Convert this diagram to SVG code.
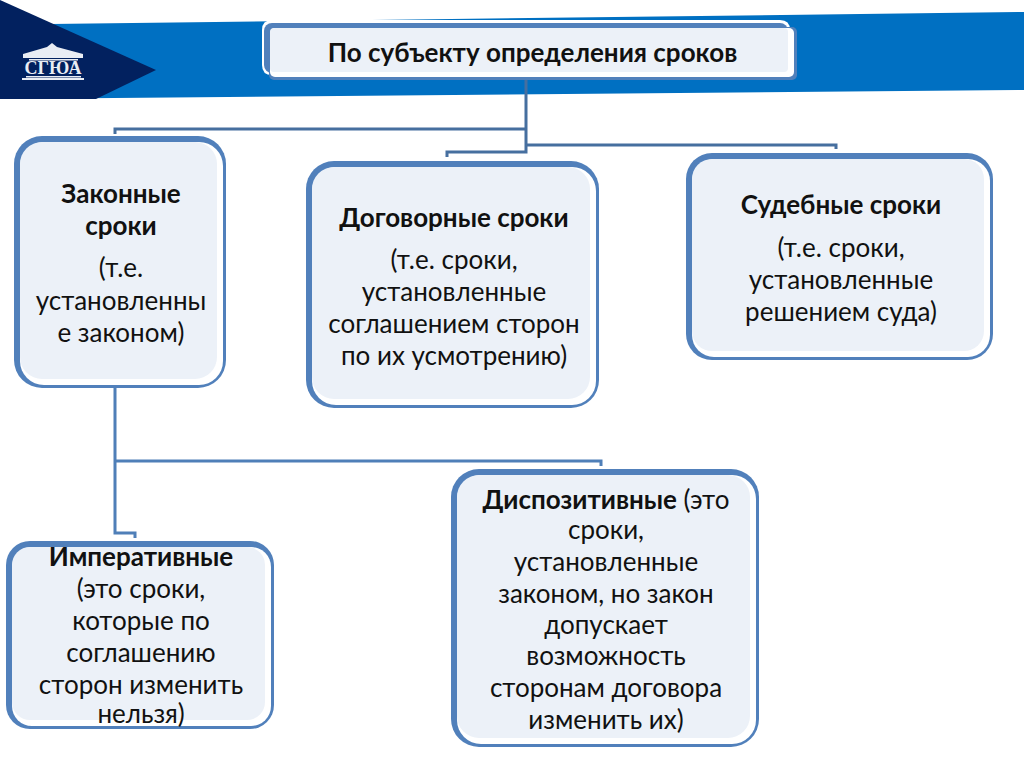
<svg xmlns="http://www.w3.org/2000/svg" width="1024" height="767" viewBox="0 0 1024 767">
<style>
.o{fill:#5180bb}.w{fill:#fff}.f{fill:#ecf1f8}
text{font-family:"Lato","Noto Sans",sans-serif;font-size:26px;fill:#111;text-anchor:middle}
.b{font-weight:700}
.c{fill:none;stroke:#466f9f;stroke-width:3}
</style>
<rect width="1024" height="767" fill="#fff"/>
<polygon points="50,24 1024,12 1024,90 0,99" fill="#0070c2"/>
<polygon points="0,0 156,70 96,99 0,99" fill="#02215f"/>
<g id="logo" fill="#e9edf4">
<path d="M23,54 L47,47 L52,43 L57,47 L83,54 L83,58 L23,58Z"/>
<rect x="29" y="59" width="49" height="1.500"/>
<text x="53" y="73.500" style="font-family:'Liberation Serif',serif;font-size:18px;fill:#e9edf4;font-weight:700">СГЮА</text>
<rect x="26" y="76" width="55" height="1.500"/><rect x="22" y="78" width="62" height="2"/>
</g>
<g id="connectors" class="c">
<path d="M526,80V152H447V157"/><path d="M526,129H115V134"/><path d="M526,145H836V149"/>
<path d="M115,385V533H135V538" stroke="#4f7fb8"/><path d="M115,461H601V466" stroke="#4f7fb8"/>
</g>
<g id="n0">
<path d="M272,20H780Q790,20 790,30V75H272Q262,75 262,65V30Q262,20 272,20Z" class="w"/>
<rect x="264" y="23" width="524" height="50" rx="8" class="o"/>
<rect x="269" y="27" width="528" height="53" rx="5" class="o"/>
<rect x="270" y="28" width="524" height="49" rx="5" class="w"/>
<rect x="270" y="28" width="518" height="44" rx="4" class="f"/>
<text x="532.500" y="62" class="b">По субъекту определения сроков</text>
</g>
<g id="n1">
<rect x="14" y="136" width="212" height="252" rx="28" class="o"/>
<rect x="20" y="142" width="203" height="243" rx="24" class="w"/>
<rect x="20" y="142" width="197" height="237" rx="22" class="f"/>
<text x="121" y="203" class="b">Законные</text>
<text x="121" y="235" class="b">сроки</text>
<text x="121" y="277">(т.е.</text>
<text x="121" y="310">установленны</text>
<text x="121" y="342">е законом)</text>
</g>
<g id="n2">
<rect x="306" y="161" width="293" height="247" rx="28" class="o"/>
<rect x="312" y="167" width="284" height="238" rx="24" class="w"/>
<rect x="312" y="167" width="278" height="232" rx="22" class="f"/>
<text x="454" y="227" class="b">Договорные сроки</text>
<text x="454" y="269">(т.е. сроки,</text>
<text x="454" y="301">установленные</text>
<text x="454" y="333">соглашением сторон</text>
<text x="454" y="365">по их усмотрению)</text>
</g>
<g id="n3">
<rect x="686" y="153" width="307" height="207" rx="26" class="o"/>
<rect x="692" y="159" width="298" height="198" rx="22" class="w"/>
<rect x="692" y="159" width="292" height="192" rx="20" class="f"/>
<text x="841" y="214" class="b">Судебные сроки</text>
<text x="841" y="257">(т.е. сроки,</text>
<text x="841" y="289">установленные</text>
<text x="841" y="321">решением суда)</text>
</g>
<g id="n4">
<rect x="6" y="541" width="268" height="188" rx="24" class="o"/>
<rect x="12" y="547" width="259" height="179" rx="20" class="w"/>
<rect x="12" y="547" width="253" height="173" rx="18" class="f"/>
<text x="141" y="566" class="b">Императивные</text>
<text x="141" y="598">(это сроки,</text>
<text x="141" y="630">которые по</text>
<text x="141" y="662">соглашению</text>
<text x="141" y="694">сторон изменить</text>
<text x="141" y="723">нельзя)</text>
</g>
<g id="n5">
<rect x="451" y="469" width="308" height="278" rx="28" class="o"/>
<rect x="457" y="475" width="299" height="269" rx="24" class="w"/>
<rect x="457" y="475" width="293" height="263" rx="22" class="f"/>
<text x="606" y="509"><tspan class="b">Диспозитивные</tspan> (это</text>
<text x="606" y="539">сроки,</text>
<text x="606" y="571">установленные</text>
<text x="606" y="603">законом, но закон</text>
<text x="606" y="634">допускает</text>
<text x="606" y="665">возможность</text>
<text x="606" y="697">сторонам договора</text>
<text x="606" y="729">изменить их)</text>
</g>
</svg>
